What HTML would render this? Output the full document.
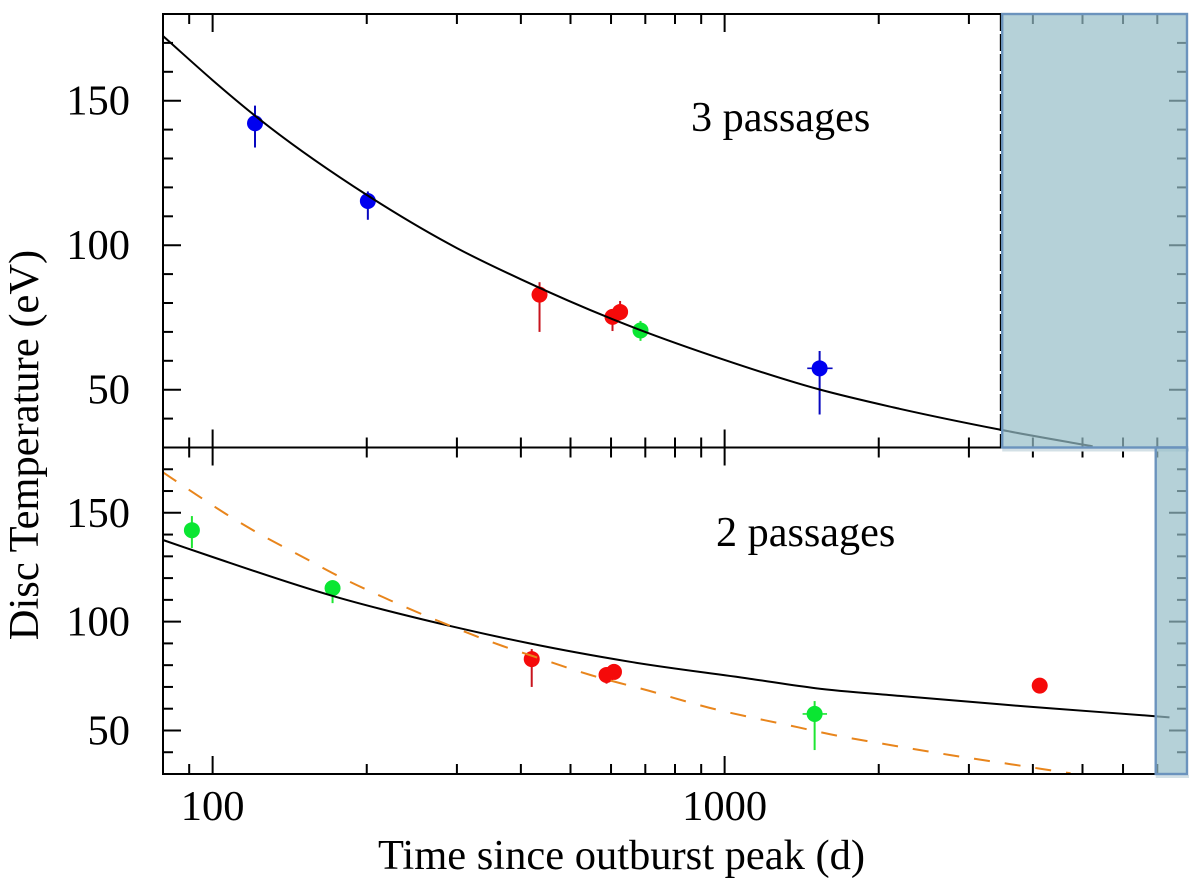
<!DOCTYPE html>
<html>
<head>
<meta charset="utf-8">
<title>Disc Temperature vs Time</title>
<style>
html,body{margin:0;padding:0;background:#fff;}
svg{display:block;}
text{font-family:"Liberation Serif",serif;font-size:42.5px;fill:#000;}
text.note{font-size:42.2px;}
</style>
</head>
<body>
<svg id="chart" width="1200" height="886" viewBox="0 0 1200 886" xmlns="http://www.w3.org/2000/svg">
  <g id="curves"></g>
  <g id="points"></g>
  <g id="axes"></g>
  <g id="labels">
    <text x="621.5" y="869" text-anchor="middle">Time since outburst peak (d)</text>
    <text transform="translate(38,445) rotate(-90)" text-anchor="middle">Disc Temperature (eV)</text>
    <text class="note" x="691" y="131">3 passages</text>
    <text class="note" x="716" y="546">2 passages</text>
  </g>
  <g id="overlays"></g>
</svg>
<script>
// Axis ranges and ticks
const xDomain = [80, 8000];
const yDomain = [30, 180];
const xMajorTicks = [100, 1000];
const xMinorTicks = [90, 200, 300, 400, 500, 600, 700, 800, 900, 2000, 3000, 4000, 5000, 6000, 7000];
const yMajorTicks = [50, 100, 150];
const yMinorTicks = [40, 60, 70, 80, 90, 110, 120, 130, 140, 160, 170];
const xTickLabels = ['100', '1000'];
const yTickLabels = ['50', '100', '150'];

// Top panel: 3 passages
const topTime   = [121, 201, 435, 604, 625, 685, 1533];
const topTemp   = [142.2, 115.3, 82.9, 75.2, 76.9, 70.5, 57.4];
const topTempLo = [133.8, 108.8, 70, 70.3, 74, 66.9, 41.4];
const topTempHi = [148.3, 118.6, 87.2, 77.6, 80.7, 73.8, 63.4];
const topTimeLo = [121, 201, 435, 604, 625, 685, 1450];
const topTimeHi = [121, 201, 435, 604, 625, 685, 1625];
const topGroup  = ['blue', 'blue', 'red', 'red', 'red', 'green', 'blue'];
const topCurveTime = [80, 100, 121, 200, 300, 400, 604, 1000, 1530, 2197, 3470, 5235];
const topCurveTemp = [172.4, 157.1, 144.8, 117.4, 99, 88.2, 74.4, 60.3, 50.1, 43.4, 36.1, 30.4];

// Bottom panel: 2 passages
const botTime   = [91.1, 171.5, 420, 588, 608, 1499, 4125];
const botTemp   = [142, 115.4, 82.8, 75.5, 76.9, 57.6, 70.6];
const botTempLo = [133.8, 108.5, 70, 71.5, 74.5, 41, 70.6];
const botTempHi = [148.5, 119, 87.4, 77, 79, 63.5, 70.6];
const botTimeLo = [91.1, 171.5, 420, 588, 608, 1420, 4125];
const botTimeHi = [91.1, 171.5, 420, 588, 608, 1585, 4125];
const botGroup  = ['green', 'green', 'red', 'red', 'red', 'green', 'red'];
const botSolidTime = [80, 100, 171.5, 290, 416, 652, 1119, 1506, 2197, 3446, 4312, 6885, 7396];
const botSolidTemp = [137.5, 129.7, 111.8, 98.1, 90, 81.6, 73.8, 69.4, 65.9, 62, 60.2, 56.6, 56];
const botDashTime = [80, 90, 106.3, 119.7, 152.4, 171.5, 221.7, 286, 368.5, 421.7, 547, 710, 931, 1389, 1611, 2110, 2763, 3620, 4740];
const botDashTemp = [168.6, 160.5, 149.4, 142.1, 128.8, 122.3, 109.9, 98.8, 88.8, 84.2, 75.5, 68.3, 60.5, 51.5, 48.2, 43.3, 38.7, 34.5, 30.3];

// Excluded time ranges (days)
const topExcludedStart = 3485;
const botExcludedStart = 6950;

const NS = 'http://www.w3.org/2000/svg';
const markerFill = {blue: '#0000f0', red: '#f50a0a', green: '#0ae632'};
const barStroke = {blue: '#0808c0', red: '#c8141e', green: '#1ee632'};
const PLOT = {left: 163, right: 1187};
const PANEL_TOP = {top: 14, bottom: 447.5};
const PANEL_BOT = {top: 447.5, bottom: 774};

function xScale(t) {
  const a = Math.log10(xDomain[0]), b = Math.log10(xDomain[1]);
  return PLOT.left + (Math.log10(t) - a) / (b - a) * (PLOT.right - PLOT.left);
}
function yScale(panel, v) {
  return panel.bottom - (v - yDomain[0]) / (yDomain[1] - yDomain[0]) * (panel.bottom - panel.top);
}
function make(tag, attrs, parent) {
  const el = document.createElementNS(NS, tag);
  for (const k in attrs) el.setAttribute(k, attrs[k]);
  parent.appendChild(el);
  return el;
}
function smoothPath(xs, ys) {
  const n = xs.length;
  const h = [], s = [], m = [];
  for (let i = 0; i < n - 1; i++) {
    h[i] = xs[i + 1] - xs[i];
    s[i] = (ys[i + 1] - ys[i]) / h[i];
  }
  m[0] = s[0];
  m[n - 1] = s[n - 2];
  for (let i = 1; i < n - 1; i++) {
    m[i] = (h[i] * s[i - 1] + h[i - 1] * s[i]) / (h[i - 1] + h[i]);
  }
  let d = 'M' + xs[0].toFixed(1) + ' ' + ys[0].toFixed(1);
  for (let i = 0; i < n - 1; i++) {
    const c1x = xs[i] + h[i] / 3, c1y = ys[i] + m[i] * h[i] / 3;
    const c2x = xs[i + 1] - h[i] / 3, c2y = ys[i + 1] - m[i + 1] * h[i] / 3;
    d += 'C' + c1x.toFixed(1) + ' ' + c1y.toFixed(1) + ' ' + c2x.toFixed(1) + ' ' + c2y.toFixed(1) + ' ' + xs[i + 1].toFixed(1) + ' ' + ys[i + 1].toFixed(1);
  }
  return d;
}

const curves = document.getElementById('curves');
const points = document.getElementById('points');
const axes = document.getElementById('axes');
const overlays = document.getElementById('overlays');
const labels = document.getElementById('labels');

function drawPoints(panel, time, temp, lo, hi, tLo, tHi, group, prefix) {
  time.forEach(function (t, i) {
    const g = make('g', {}, points);
    
    
    const cx = xScale(t), cy = yScale(panel, temp[i]);
    const stroke = barStroke[group[i]];
    make('line', {x1: cx, x2: cx, y1: yScale(panel, hi[i]), y2: yScale(panel, lo[i]), stroke: stroke, 'stroke-width': 2}, g);
    if (tHi[i] !== tLo[i]) {
      make('line', {x1: xScale(tLo[i]), x2: xScale(tHi[i]), y1: cy, y2: cy, stroke: stroke, 'stroke-width': 1.6}, g);
    }
    make('circle', {cx: cx, cy: cy, r: 8, fill: markerFill[group[i]]}, g);
  });
}
drawPoints(PANEL_TOP, topTime, topTemp, topTempLo, topTempHi, topTimeLo, topTimeHi, topGroup, 'top');
drawPoints(PANEL_BOT, botTime, botTemp, botTempLo, botTempHi, botTimeLo, botTimeHi, botGroup, 'bottom');

function drawCurve(panel, times, temps, stroke, width, dash, name) {
  const p = make('path', {
    d: smoothPath(times.map(xScale), temps.map(function (v) { return yScale(panel, v); })),
    fill: 'none', stroke: stroke, 'stroke-width': width
  }, curves);
  if (dash) p.setAttribute('stroke-dasharray', dash);
  
  
}
// Curves sit above the markers in the reference
points.parentNode.insertBefore(curves, axes);
drawCurve(PANEL_TOP, topCurveTime, topCurveTemp, '#000', 2, null, 'top-model-curve');
drawCurve(PANEL_BOT, botSolidTime, botSolidTemp, '#000', 2, null, 'bottom-model-curve-solid');
drawCurve(PANEL_BOT, botDashTime, botDashTemp, '#e8851c', 2, '16 15', 'bottom-model-curve-dashed');

function tick(x1, y1, x2, y2, name) {
  const l = make('line', {x1: x1, y1: y1, x2: x2, y2: y2, stroke: '#000', 'stroke-width': 2}, axes);
  
  
}
const MAJOR = 18, MINOR = 10;
[PANEL_TOP, PANEL_BOT].forEach(function (panel, idx) {
  const tag = idx === 0 ? 'top' : 'bottom';
  const frame = make('rect', {
    x: PLOT.left, y: panel.top, width: PLOT.right - PLOT.left, height: panel.bottom - panel.top,
    fill: 'none', stroke: '#000', 'stroke-width': 2
  }, axes);
  
  
  xMajorTicks.forEach(function (t) {
    const x = xScale(t);
    tick(x, panel.top, x, panel.top + MAJOR, tag + '-x-major-tick-upper');
    tick(x, panel.bottom, x, panel.bottom - MAJOR, tag + '-x-major-tick-lower');
  });
  xMinorTicks.forEach(function (t) {
    const x = xScale(t);
    tick(x, panel.top, x, panel.top + MINOR, tag + '-x-minor-tick-upper');
    tick(x, panel.bottom, x, panel.bottom - MINOR, tag + '-x-minor-tick-lower');
  });
  yMajorTicks.forEach(function (v, i) {
    const y = yScale(panel, v);
    tick(PLOT.left, y, PLOT.left + MAJOR, y, tag + '-y-major-tick-left');
    tick(PLOT.right, y, PLOT.right - MAJOR, y, tag + '-y-major-tick-right');
    const lab = make('text', {x: 130, y: y + 14, 'text-anchor': 'end'}, labels);
    lab.textContent = yTickLabels[i];
    
    
  });
  yMinorTicks.forEach(function (v) {
    const y = yScale(panel, v);
    tick(PLOT.left, y, PLOT.left + MINOR, y, tag + '-y-minor-tick-left');
    tick(PLOT.right, y, PLOT.right - MINOR, y, tag + '-y-minor-tick-right');
  });
});
xMajorTicks.forEach(function (t, i) {
  const lab = make('text', {x: xScale(t), y: 820, 'text-anchor': 'middle'}, labels);
  lab.textContent = xTickLabels[i];
  
  
});

// Dashed marker beneath the left edge of the top excluded region
const edgeX = xScale(topExcludedStart);
const edge = make('line', {x1: edgeX - 1.5, x2: edgeX - 1.5, y1: PANEL_TOP.top, y2: PANEL_TOP.bottom, stroke: '#000', 'stroke-width': 1.8, 'stroke-dasharray': '17 3'}, axes);



function drawRegion(startT, panel, name) {
  const x = xScale(startT);
  const shade = make('rect', {
    x: x, y: panel.bottom + 1, width: PLOT.right - x + 2, height: 3, fill: '#d3e0e6'
  }, overlays);
  
  
  const r = make('rect', {
    x: x, y: panel.top, width: PLOT.right - x, height: panel.bottom - panel.top,
    fill: 'rgba(150,190,200,0.7)', stroke: '#6b93bd', 'stroke-width': 2.4
  }, overlays);
  
  
}
drawRegion(topExcludedStart, PANEL_TOP, 'top-excluded-region');
drawRegion(botExcludedStart, PANEL_BOT, 'bottom-excluded-region');
</script>
</body>
</html>
